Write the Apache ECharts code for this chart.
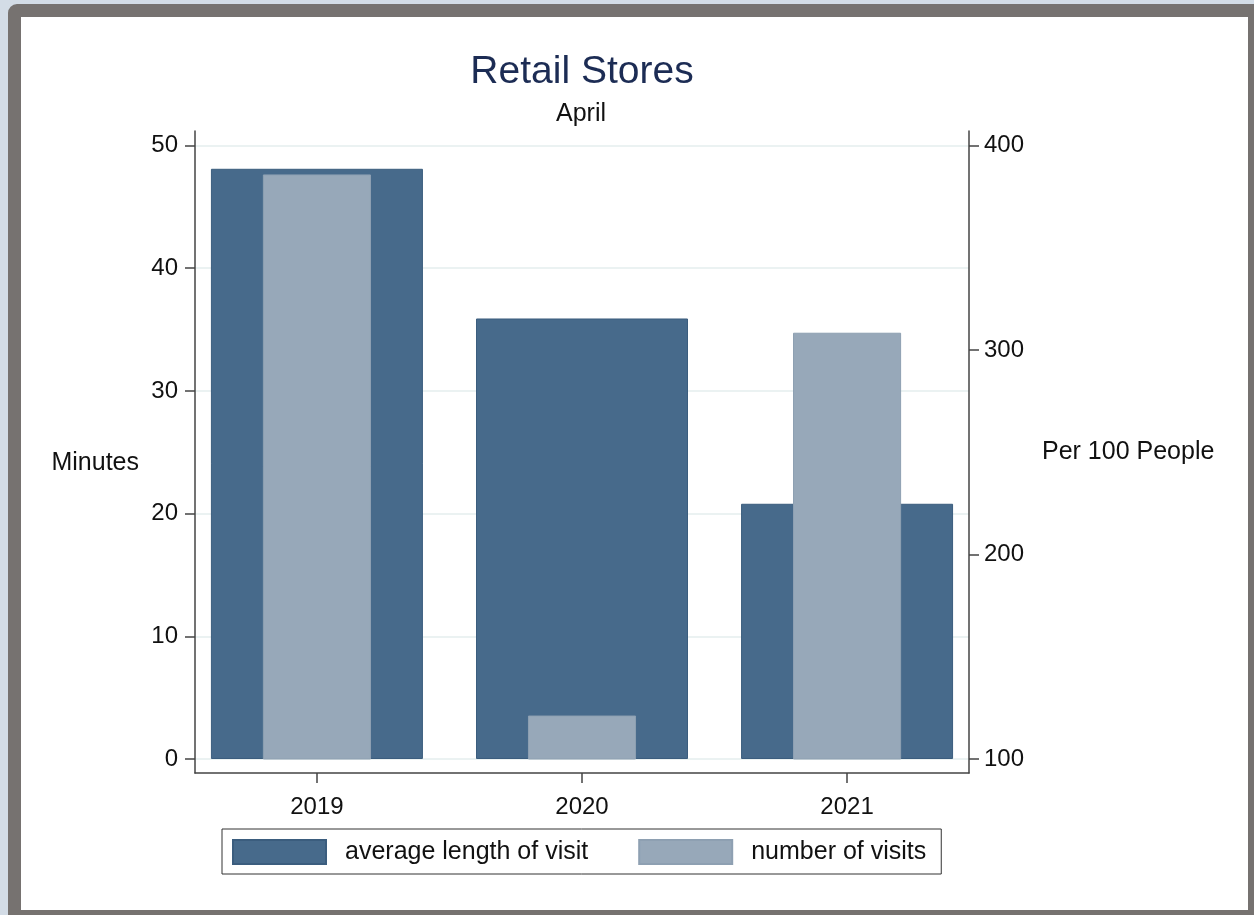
<!DOCTYPE html>
<html><head><meta charset="utf-8">
<script src="https://cdn.jsdelivr.net/npm/echarts@6/dist/echarts.min.js"></script>
<style>
html,body{margin:0;padding:0;width:1254px;height:915px;background:#d3dce6;overflow:hidden}
#frame{position:absolute;left:8px;top:4px;width:1227px;height:893px;background:#fff;border-style:solid;border-color:#767270;border-width:13px 6px 5px 13px;border-top-left-radius:9px}
#chart{position:absolute;left:0;top:0;width:1254px;height:915px}
</style></head>
<body>
<div id="frame"></div>
<div id="chart"></div>
<script>
const years = [2019, 2020, 2021];
const avgLength = [48.1, 35.9, 20.8];
const visits = [385.6, 121.0, 308.2];
const leftTicks = [0, 10, 20, 30, 40, 50];
const rightTicks = [100, 200, 300, 400];
const seriesNames = ['average length of visit', 'number of visits'];

const FONT = '"Liberation Sans", Arial, sans-serif';
const DARK = '#476a8b';
const LIGHT = '#97a8b9';
const AXIS = '#444';

const chart = echarts.init(document.getElementById('chart'), null, {renderer: 'canvas'});
chart.setOption({
  animation: false,
  textStyle: {fontFamily: FONT},
  graphic: [
    {type: 'text', x: 582, y: 72, style: {text: 'Retail Stores', fontSize: 39, fontFamily: FONT, fill: '#1c2c54', align: 'center', verticalAlign: 'middle'}},
    {type: 'text', x: 581, y: 114, style: {text: 'April', fontSize: 25, fontFamily: FONT, fill: '#111', align: 'center', verticalAlign: 'middle'}}
  ],
  grid: {left: 195, right: 285, top: 131, bottom: 142, containLabel: false},
  legend: {
    left: 222, top: 829,
    padding: [10, 15, 9, 10],
    borderColor: '#333', borderWidth: 1,
    itemWidth: 93, itemHeight: 24, itemGap: 50,
    icon: 'rect',
    textStyle: {fontSize: 25, fontFamily: FONT, color: '#111', padding: [5, 0, 0, 14]},
    data: seriesNames
  },
  xAxis: {
    type: 'value', min: 2018.54, max: 2021.46,
    axisLine: {show: true, onZero: false, lineStyle: {color: AXIS, width: 1.5}},
    axisTick: {show: true, customValues: years, length: 10, lineStyle: {color: AXIS, width: 1.5}},
    axisLabel: {customValues: years, formatter: v => String(v), fontSize: 24, color: '#111', margin: 22},
    splitLine: {show: false}
  },
  yAxis: [
    {
      type: 'value', position: 'left', min: -1.141, max: 51.18,
      name: 'Minutes', nameLocation: 'middle', nameRotate: 0, nameGap: 56,
      nameTextStyle: {fontSize: 25, color: '#111', verticalAlign: 'top', lineHeight: 22},
      axisLine: {show: true, lineStyle: {color: AXIS, width: 1.5}},
      axisTick: {show: true, customValues: leftTicks, length: 10, lineStyle: {color: AXIS, width: 1.5}},
      axisLabel: {customValues: leftTicks, fontSize: 24, color: '#111', margin: 17},
      splitLine: {show: true, lineStyle: {color: '#e4eeee', width: 1.5}}
    },
    {
      type: 'value', position: 'right', min: 93.15, max: 407.09,
      name: 'Per 100 People', nameLocation: 'middle', nameRotate: 0, nameGap: 73,
      nameTextStyle: {fontSize: 25, color: '#111'},
      axisLine: {show: true, lineStyle: {color: AXIS, width: 1.5}},
      axisTick: {show: true, customValues: rightTicks, length: 10, lineStyle: {color: AXIS, width: 1.5}},
      axisLabel: {customValues: rightTicks, fontSize: 24, color: '#111', margin: 15},
      splitLine: {show: false}
    }
  ],
  series: [
    {
      name: seriesNames[0], type: 'bar', xAxisIndex: 0, yAxisIndex: 0, z: 2,
      barWidth: 212,
      itemStyle: {color: DARK, borderColor: '#3b5d7e', borderWidth: 1},
      data: years.map((y, i) => [y, avgLength[i]])
    },
    {
      name: seriesNames[1], type: 'custom', xAxisIndex: 0, yAxisIndex: 1, z: 5,
      encode: {x: 0, y: 1},
      itemStyle: {color: LIGHT, borderColor: '#8ea0b2', borderWidth: 1},
      data: years.map((y, i) => [y, visits[i]]),
      renderItem: function (params, api) {
        const x = api.value(0), v = api.value(1);
        const top = api.coord([x, v]);
        const base = api.coord([x, rightTicks[0]]);
        const w = api.size([0.404, 0])[0];
        return {
          type: 'rect',
          shape: {x: top[0] - w / 2, y: top[1], width: w, height: base[1] - top[1]},
          style: {fill: LIGHT, stroke: '#8ea0b2', lineWidth: 1}
        };
      }
    }
  ]
});
</script>
</body></html>
